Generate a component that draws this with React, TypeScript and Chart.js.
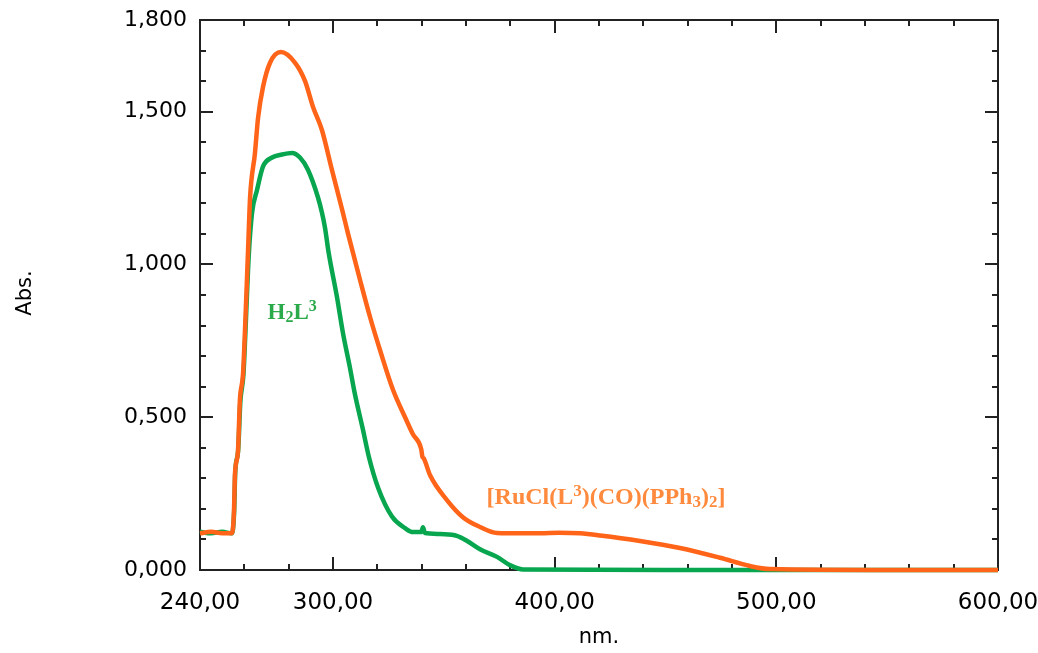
import React, { useEffect, useRef } from 'react';
import { Chart, registerables } from 'chart.js';

Chart.register(...registerables);

// Axis ticks
const X_TICKS = [240, 300, 400, 500, 600];
const Y_TICKS = [0, 0.5, 1.0, 1.5, 1.8];

// [RuCl(L3)(CO)(PPh3)2] spectrum (nm, Abs.)
const RU_NM = [240, 245, 250, 254.4, 255.3, 255.8, 257.1, 258.0, 259.4, 260.3, 261.7, 262.6, 264.8, 266.2, 268.4, 271.6, 276.5, 282.9, 287.4, 291.0, 295.0, 299.5, 304.1, 306.8, 312.2, 316.7, 321.2, 327.1, 332.5, 336.0, 339.8, 340.3, 341.0, 343.8, 351.4, 358.6, 366.3, 374.0, 385.0, 393.4, 402.0, 411.4, 420.5, 438.5, 456.5, 474.6, 488.1, 497.1, 550, 600];
const RU_ABS = [0.12, 0.125, 0.12, 0.12, 0.187, 0.317, 0.386, 0.556, 0.64, 0.785, 1.05, 1.22, 1.365, 1.48, 1.58, 1.66, 1.695, 1.66, 1.60, 1.515, 1.44, 1.31, 1.18, 1.10, 0.949, 0.828, 0.72, 0.589, 0.50, 0.445, 0.395, 0.372, 0.365, 0.31, 0.229, 0.173, 0.141, 0.121, 0.12, 0.12, 0.122, 0.12, 0.113, 0.095, 0.072, 0.04, 0.013, 0.003, 0, 0];

// H2L3 spectrum (nm, Abs.)
const HL_NM = [240, 245, 250, 254.4, 255.4, 255.9, 257.2, 258.2, 259.6, 260.5, 262.0, 263.5, 265.7, 268.4, 272.5, 277.0, 281.5, 285.1, 288.7, 293.2, 295.0, 296.4, 298.0, 301.8, 304.5, 307.7, 309.9, 313.5, 316.2, 320.3, 326.6, 332.5, 336.1, 339.8, 340.6, 341.4, 342.4, 348.3, 355.9, 360.5, 366.3, 374.0, 379.8, 385.7, 450, 600];
const HL_ABS = [0.125, 0.12, 0.125, 0.12, 0.19, 0.32, 0.39, 0.55, 0.64, 0.78, 1.03, 1.17, 1.243, 1.32, 1.35, 1.36, 1.365, 1.35, 1.31, 1.22, 1.17, 1.12, 1.04, 0.893, 0.775, 0.66, 0.575, 0.46, 0.37, 0.27, 0.175, 0.137, 0.124, 0.124, 0.14, 0.122, 0.12, 0.118, 0.112, 0.095, 0.068, 0.043, 0.016, 0.002, 0, 0];

const RU_COLOR = '#FF6418';
const HL_COLOR = '#07A64F';
const RU_TEXT = '#FF8A3D';
const HL_TEXT = '#2AAA4A';

type Seg = { t: string; k?: 'sub' | 'sup' };
const HL_LABEL: Seg[] = [{ t: 'H' }, { t: '2', k: 'sub' }, { t: 'L' }, { t: '3', k: 'sup' }];
const RU_LABEL: Seg[] = [
  { t: '[RuCl(L' }, { t: '3', k: 'sup' }, { t: ')(CO)(PPh' }, { t: '3', k: 'sub' }, { t: ')' }, { t: '2', k: 'sub' }, { t: ']' },
];

function drawRich(ctx: CanvasRenderingContext2D, segs: Seg[], x: number, y: number, size: number, color: string) {
  ctx.save();
  ctx.fillStyle = color;
  ctx.textBaseline = 'alphabetic';
  ctx.textAlign = 'left';
  let cx = x;
  for (const s of segs) {
    const fs = s.k ? Math.round(size * 0.7) : size;
    ctx.font = `bold ${fs}px "Liberation Serif", "Times New Roman", serif`;
    const dy = s.k === 'sub' ? size * 0.1 : s.k === 'sup' ? -size * 0.36 : 0;
    ctx.fillText(s.t, cx, y + dy);
    cx += ctx.measureText(s.t).width;
  }
  ctx.restore();
}

const fmt = (v: number, d: number) => v.toFixed(d).replace('.', ',');
const TICK_FONT = '"DejaVu Sans", Verdana, sans-serif';

const framePlugin = {
  id: 'frame',
  beforeDatasetsDraw(chart: any) {
    const { ctx, chartArea, scales } = chart;
    const { left, right, top, bottom } = chartArea;
    const x = scales.x, y = scales.y;
    ctx.save();
    ctx.strokeStyle = '#222';
    ctx.lineWidth = 2;
    ctx.strokeRect(left, top, right - left, bottom - top);
    ctx.beginPath();
    for (let v = 260; v < 600; v += 20) {
      const px = Math.round(x.getPixelForValue(v));
      const len = v % 100 === 0 ? 13 : 6;
      ctx.moveTo(px, bottom); ctx.lineTo(px, bottom - len);
      ctx.moveTo(px, top); ctx.lineTo(px, top + len);
    }
    for (let i = 1; i < 18; i++) {
      const py = Math.round(y.getPixelForValue(i / 10));
      const len = i % 5 === 0 ? 13 : 6;
      ctx.moveTo(left, py); ctx.lineTo(left + len, py);
      ctx.moveTo(right, py); ctx.lineTo(right - len, py);
    }
    ctx.stroke();

    // axis titles
    ctx.fillStyle = '#000';
    ctx.font = `21px ${TICK_FONT}`;
    ctx.textAlign = 'center';
    ctx.textBaseline = 'middle';
    ctx.fillText('nm.', (left + right) / 2, bottom + 68);
    ctx.save();
    ctx.translate(26, (top + bottom) / 2 - 2);
    ctx.rotate(-Math.PI / 2);
    ctx.fillText('Abs.', 0, 0);
    ctx.restore();
    ctx.restore();
  },
  afterDatasetsDraw(chart: any) {
    const { ctx, scales } = chart;
    const x = scales.x, y = scales.y;
    drawRich(ctx, HL_LABEL, x.getPixelForValue(270.5), y.getPixelForValue(0.82), 23, HL_TEXT);
    drawRich(ctx, RU_LABEL, x.getPixelForValue(369.3), y.getPixelForValue(0.215), 24, RU_TEXT);
  },
};

export default function App() {
  const ref = useRef<HTMLCanvasElement>(null);
  useEffect(() => {
    document.body.style.margin = '0';
    const canvas = ref.current!;
    const chart = new Chart(canvas, {
      type: 'line',
      data: {
        datasets: [
          {
            label: '[RuCl(L3)(CO)(PPh3)2]',
            data: RU_NM.map((v, i) => ({ x: v, y: RU_ABS[i] })),
            borderColor: RU_COLOR,
            borderWidth: 4.5,
            pointRadius: 0,
            cubicInterpolationMode: 'monotone',
            clip: false as any,
          },
          {
            label: 'H2L3',
            data: HL_NM.map((v, i) => ({ x: v, y: HL_ABS[i] })),
            borderColor: HL_COLOR,
            borderWidth: 4.5,
            pointRadius: 0,
            cubicInterpolationMode: 'monotone',
            clip: false as any,
          },
        ],
      },
      options: {
        responsive: false,
        animation: false,
        devicePixelRatio: 1,
        layout: { padding: { left: 0, top: 20, right: 40, bottom: 0 } },
        plugins: { legend: { display: false }, tooltip: { enabled: false } },
        scales: {
          x: {
            type: 'linear',
            min: 240,
            max: 600,
            grid: { display: false, drawTicks: false },
            border: { display: false },
            afterBuildTicks: (s: any) => { s.ticks = X_TICKS.map((v) => ({ value: v })); },
            afterFit: (s: any) => { s.height = 83; s.paddingLeft = 0; s.paddingRight = 0; },
            ticks: {
              padding: 19,
              maxRotation: 0,
              autoSkip: false,
              color: '#000',
              font: { family: TICK_FONT, size: 23 },
              callback: (v: any) => fmt(Number(v), 2),
            },
          },
          y: {
            type: 'linear',
            min: 0,
            max: 1.8,
            grid: { display: false, drawTicks: false },
            border: { display: false },
            afterBuildTicks: (s: any) => { s.ticks = Y_TICKS.map((v) => ({ value: v })); },
            afterFit: (s: any) => { s.width = 200; s.paddingTop = 0; s.paddingBottom = 0; },
            ticks: {
              padding: 13,
              autoSkip: false,
              color: '#000',
              font: { family: TICK_FONT, size: 22 },
              callback: (v: any) => fmt(Number(v), 3),
            },
          },
        },
      },
      plugins: [framePlugin],
    });
    return () => chart.destroy();
  }, []);
  return <canvas ref={ref} width={1038} height={653} style={{ display: 'block' }} />;
}
